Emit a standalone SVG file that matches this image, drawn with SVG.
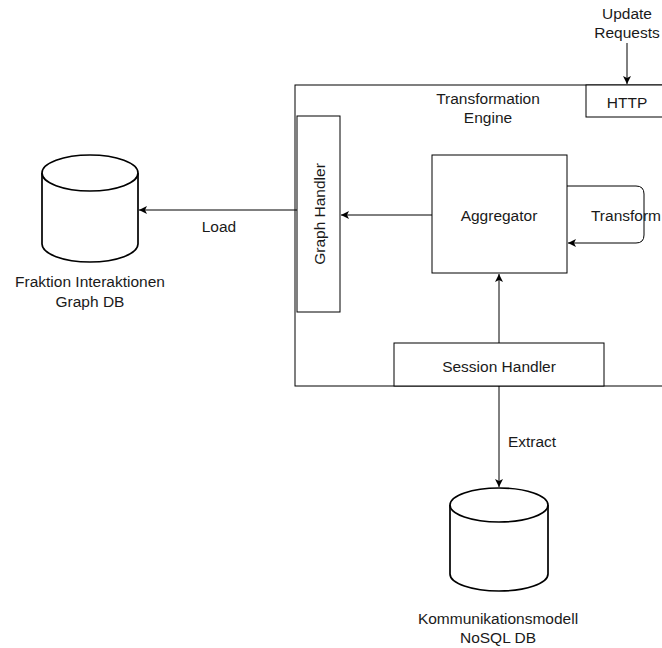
<svg xmlns="http://www.w3.org/2000/svg" width="662" height="648" viewBox="0 0 662 648">
<defs>
<style>
.box{fill:#fff;stroke:#000;stroke-width:1}
.cyl{fill:#fff;stroke:#000;stroke-width:1.7}
.ln{fill:none;stroke:#000;stroke-width:1}
.t{font-family:"Liberation Sans",Arial,sans-serif;font-size:15.5px;fill:#1a1a1a;text-anchor:middle;dominant-baseline:central}
</style>
<marker id="arr" markerWidth="9" markerHeight="9" refX="8" refY="4.5" orient="auto" markerUnits="userSpaceOnUse">
<path d="M0,0.5 L8,4.5 L0,8.5 L2,4.5 z" fill="#000"/>
</marker>
</defs>
<rect width="662" height="648" fill="#fff"/>
<g id="engine">
<rect class="box" x="295" y="85" width="380" height="301"/>
<text class="t" x="488" y="98">Transformation</text>
<text class="t" x="488" y="117">Engine</text>
</g>
<g id="http">
<rect class="box" x="586" y="85" width="90" height="32"/>
<text class="t" x="627" y="102">HTTP</text>
</g>
<g id="graph-handler">
<rect class="box" x="297" y="116" width="43" height="196"/>
<text class="t" transform="translate(319,214) rotate(-90)">Graph Handler</text>
</g>
<g id="aggregator">
<rect class="box" x="432" y="155" width="135" height="118"/>
<text class="t" x="499" y="215">Aggregator</text>
</g>
<g id="session-handler">
<rect class="box" x="394" y="343" width="210" height="43"/>
<text class="t" x="499" y="366">Session Handler</text>
</g>
<g id="graph-db">
<path class="cyl" d="M42,173 V244 A48,18 0 0 0 138,244 V173"/>
<ellipse class="cyl" cx="90" cy="173" rx="48" ry="18"/>
<text class="t" x="90" y="281">Fraktion Interaktionen</text>
<text class="t" x="90" y="301">Graph DB</text>
</g>
<g id="nosql-db">
<path class="cyl" d="M450,505 V574 A49,17 0 0 0 548,574 V505"/>
<ellipse class="cyl" cx="499" cy="505" rx="49" ry="17"/>
<text class="t" x="498" y="618">Kommunikationsmodell</text>
<text class="t" x="498" y="637">NoSQL DB</text>
</g>
<g id="update-requests">
<text class="t" x="627" y="13">Update</text>
<text class="t" x="627" y="32">Requests</text>
</g>
<g id="connectors">
<line class="ln" x1="627" y1="43" x2="627" y2="84" marker-end="url(#arr)"/>
<line class="ln" x1="432" y1="215" x2="341" y2="215" marker-end="url(#arr)"/>
<line class="ln" x1="297" y1="210" x2="139" y2="210" marker-end="url(#arr)"/>
<path class="ln" d="M567,186 H636 Q644,186 644,194 V235 Q644,243 636,243 H568" marker-end="url(#arr)"/>
<line class="ln" x1="499" y1="343" x2="499" y2="274" marker-end="url(#arr)"/>
<line class="ln" x1="499" y1="386" x2="499" y2="487" marker-end="url(#arr)"/>
<text class="t" x="219" y="226">Load</text>
<text class="t" x="626" y="215">Transform</text>
<text class="t" x="532" y="441">Extract</text>
</g>
</svg>
